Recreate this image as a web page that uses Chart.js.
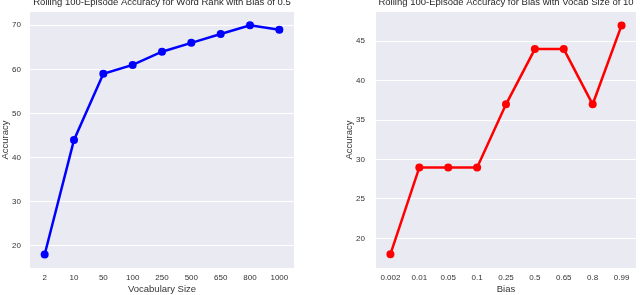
<!DOCTYPE html>
<html>
<head>
<meta charset="utf-8">
<title>Rolling 100-Episode Accuracy</title>
<style>
    body {
        margin: 0;
        padding: 0;
        background-color: #ffffff;
    }
    .panel {
        position: absolute;
        top: 0;
        width: 320px;
        height: 295px;
    }
    #leftPanel { left: 0; }
    #rightPanel { left: 320px; }
</style>
<script src="https://cdn.jsdelivr.net/npm/chart.js"></script>
</head>
<body>
<div class="panel" id="leftPanel"><canvas id="rankChart" width="320" height="295"></canvas></div>
<div class="panel" id="rightPanel"><canvas id="biasChart" width="320" height="295"></canvas></div>
<script>
    // left panel: word rank, bias fixed at 0.5
    const vocabSizes = ['2', '10', '50', '100', '250', '500', '650', '800', '1000'];
    const rankAccuracy = [18, 44, 59, 61, 64, 66, 68, 70, 69];
    const rankTicks = [20, 30, 40, 50, 60, 70];

    // right panel: bias, vocab fixed at 10
    const biasValues = ['0.002', '0.01', '0.05', '0.1', '0.25', '0.5', '0.65', '0.8', '0.99'];
    const biasAccuracy = [18, 29, 29, 29, 37, 44, 44, 37, 47];
    const biasTicks = [20, 25, 30, 35, 40, 45];

    const FONT = '"Liberation Sans", Arial, sans-serif';
    const TEXT = '#333333';

    // grey seaborn-style panel + a title centred over the plot area
    const panelStyle = {
        id: 'panelStyle',
        beforeDraw(chart, args, opts) {
            const { ctx, chartArea: a } = chart;
            ctx.save();
            ctx.fillStyle = '#EAEAF2';
            ctx.fillRect(a.left, a.top, a.right - a.left, a.bottom - a.top);
            ctx.restore();
        },
        afterDraw(chart, args, opts) {
            const { ctx, chartArea: a } = chart;
            ctx.save();
            ctx.font = '9.5px ' + FONT;
            ctx.fillStyle = '#262626';
            ctx.textAlign = 'center';
            ctx.textBaseline = 'alphabetic';
            ctx.fillText(opts.text, (a.left + a.right) / 2, 5);
            ctx.restore();
        }
    };

    function makeChart(id, labels, values, ticks, color, title, xTitle, yMin, yMax, pad, yWidth, yTickPad) {
        const ctx = document.getElementById(id).getContext('2d');
        return new Chart(ctx, {
            type: 'line',
            data: {
                labels: labels,
                datasets: [{
                    data: values,
                    borderColor: color,
                    backgroundColor: color,
                    borderWidth: 2.5,
                    pointRadius: 4,
                    pointBorderWidth: 0,
                    tension: 0,
                    fill: false
                }]
            },
            plugins: [panelStyle],
            options: {
                responsive: false,
                animation: false,
                layout: { padding: pad },
                plugins: {
                    legend: { display: false },
                    tooltip: { enabled: false },
                    panelStyle: { text: title }
                },
                scales: {
                    x: {
                        offset: true,
                        grid: { display: false, drawTicks: false },
                        border: { display: false },
                        ticks: { color: TEXT, font: { family: FONT, size: 8 }, padding: 5, maxRotation: 0 },
                        title: { display: true, text: xTitle, color: TEXT, font: { family: FONT, size: 9.5 }, padding: { top: -1, bottom: 0 } },
                        afterFit(scale) {
                            scale.height = 27;
                            scale.paddingLeft = 0;
                            scale.paddingRight = 0;
                        }
                    },
                    y: {
                        min: yMin,
                        max: yMax,
                        grid: { color: '#ffffff', lineWidth: 1, drawTicks: false },
                        border: { display: false },
                        ticks: { color: TEXT, font: { family: FONT, size: 8 }, padding: yTickPad },
                        title: { display: true, text: 'Accuracy', color: TEXT, font: { family: FONT, size: 9.5 }, padding: 0 },
                        afterBuildTicks(scale) { scale.ticks = ticks.map(v => ({ value: v })); },
                        afterFit(scale) {
                            scale.width = yWidth;
                            scale.paddingTop = 0;
                            scale.paddingBottom = 0;
                        }
                    }
                }
            }
        });
    }

    makeChart('rankChart', vocabSizes, rankAccuracy, rankTicks, '#0000FF',
        'Rolling 100-Episode Accuracy for Word Rank with Bias of 0.5', 'Vocabulary Size',
        14.95, 73.0, { top: 12, right: 26, left: 0, bottom: 0 }, 30, 9);

    makeChart('biasChart', biasValues, biasAccuracy, biasTicks, '#FF0000',
        'Rolling 100-Episode Accuracy for Bias with Vocab Size of 10', 'Bias',
        16.25, 48.7, { top: 12, right: 0, left: 24, bottom: 0 }, 32, 11);
</script>
</body>
</html>
